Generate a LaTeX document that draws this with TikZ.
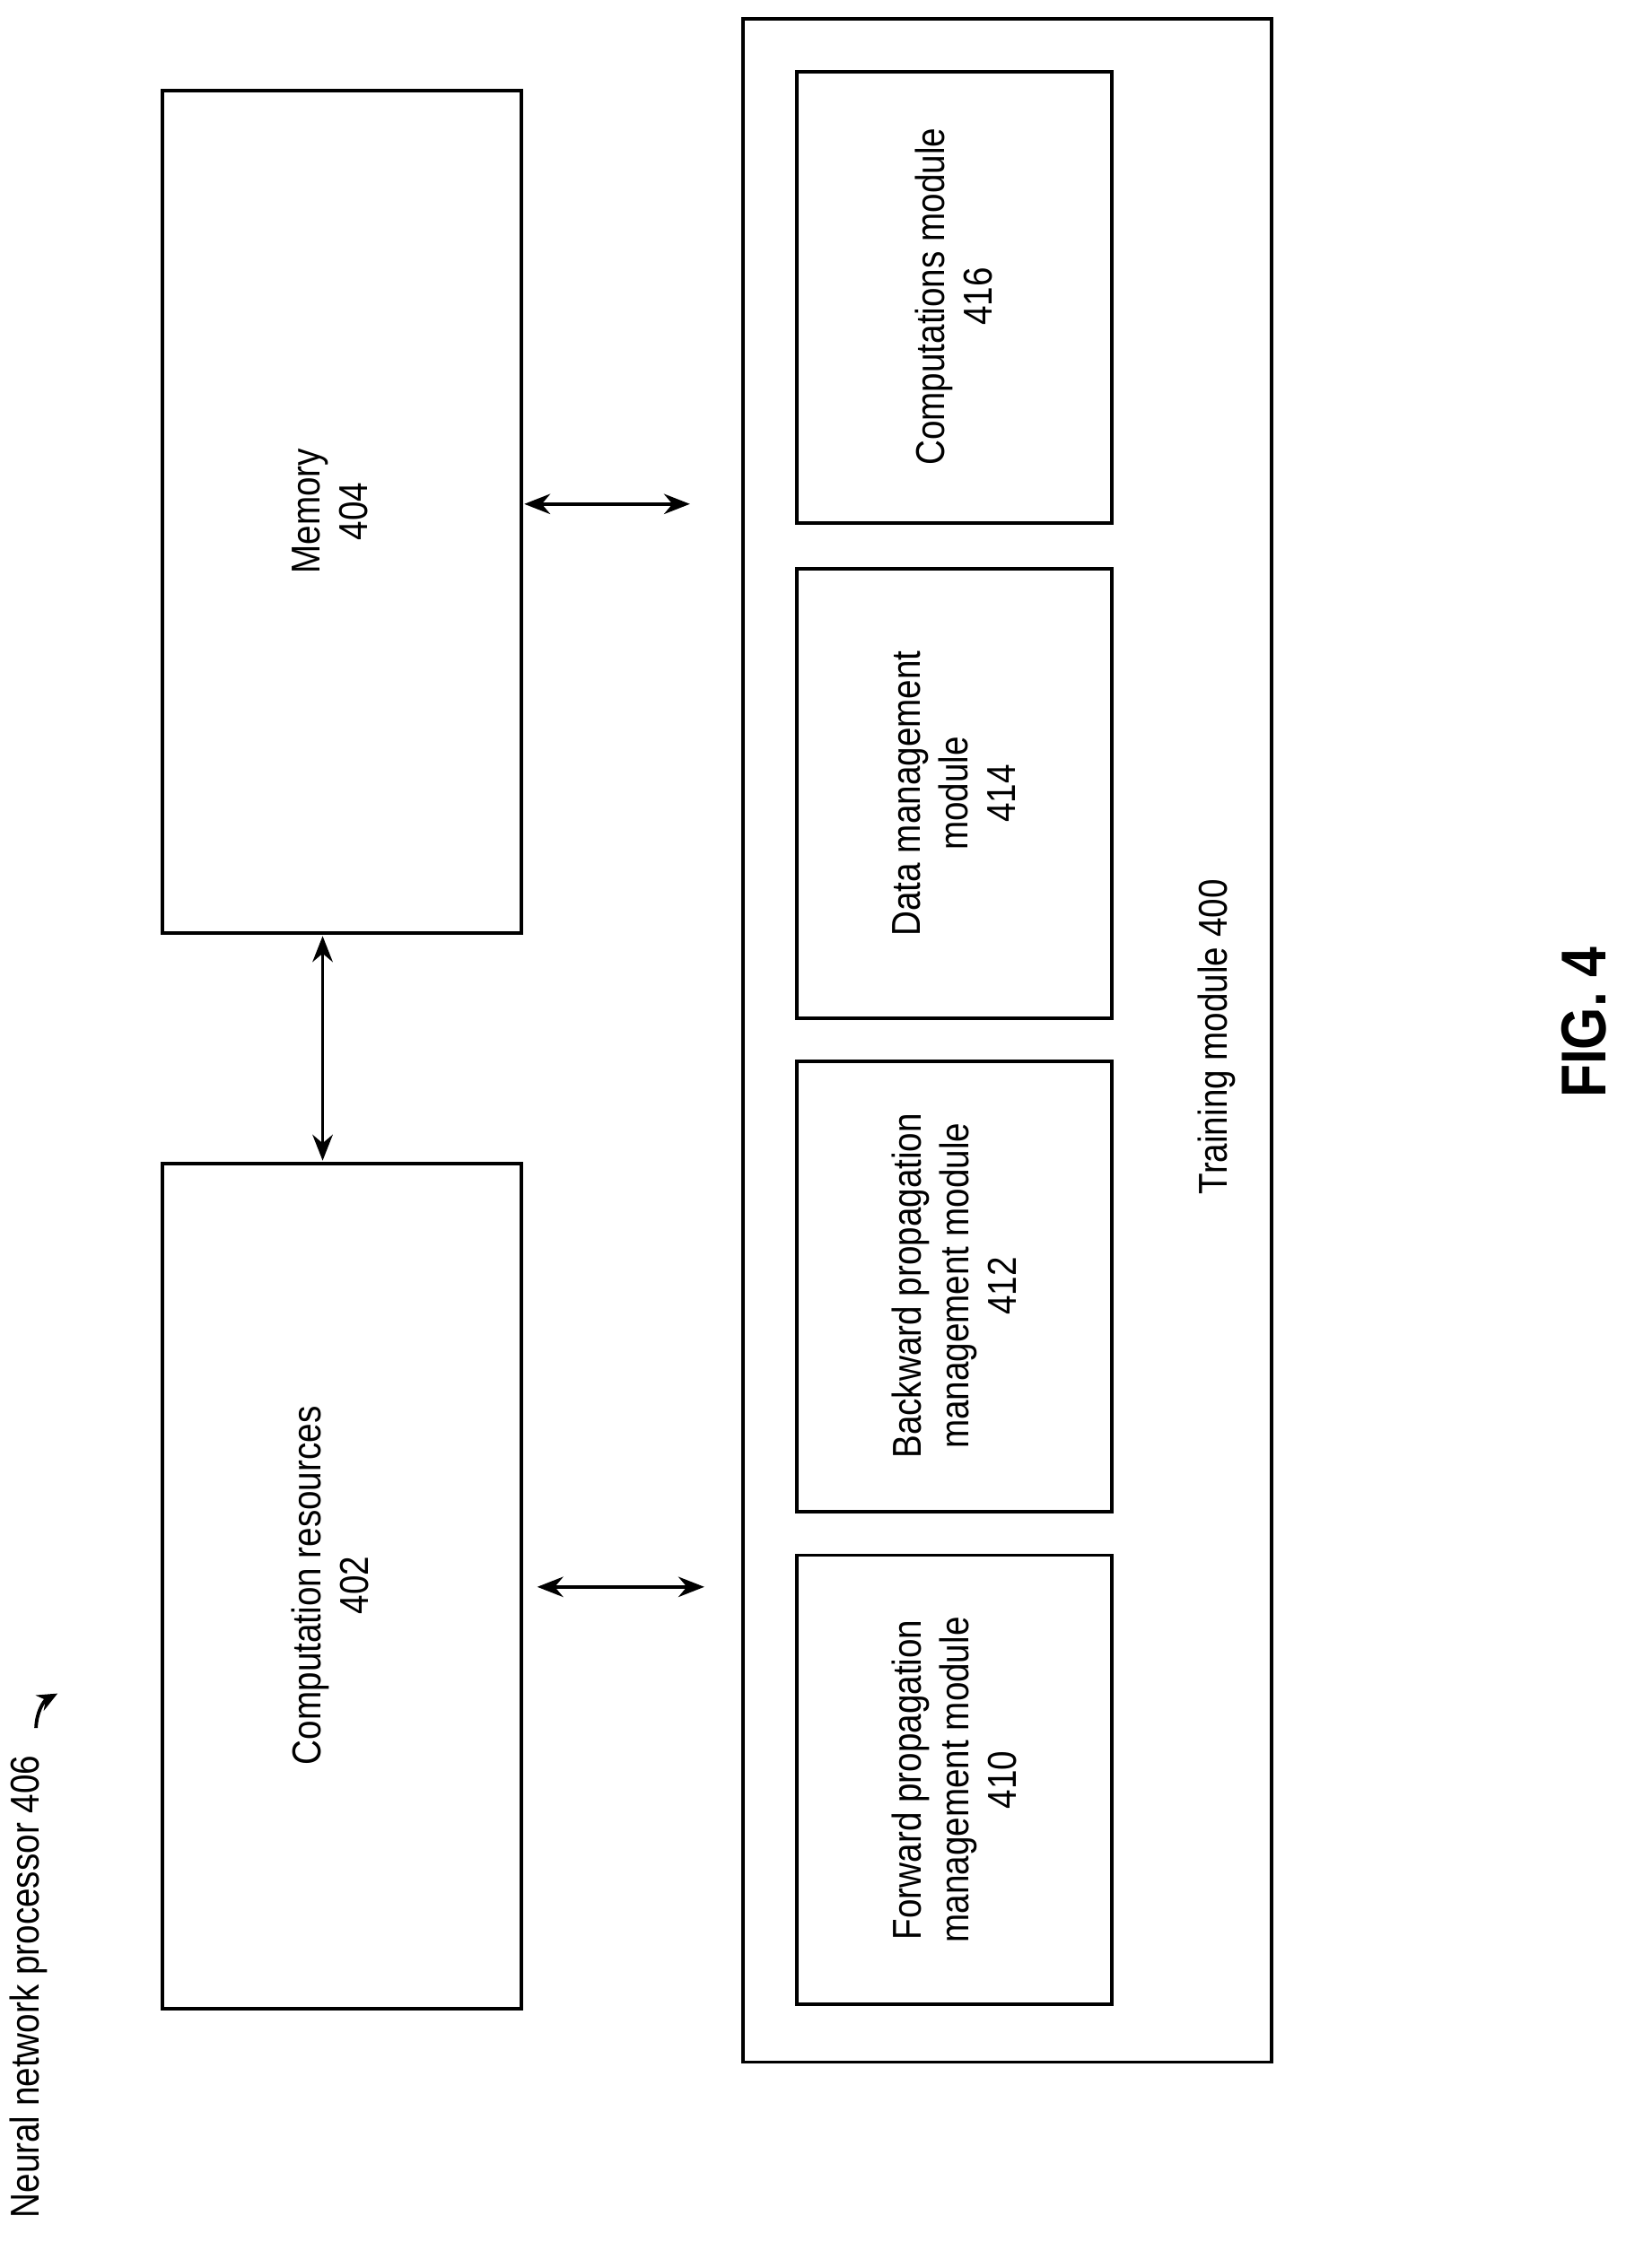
\documentclass[tikz,border=0pt]{standalone}
\usepackage{fontspec}
\setmainfont[FakeStretch=0.86]{Liberation Sans}
\usetikzlibrary{arrows.meta}
\tikzset{
    x={0.5pt},
    y={-0.5pt},
    block/.style={
        draw, line width={1.2pt},
        inner sep=0pt,
    },
    block label/.style={
        rotate=90,
        align=center,
        font={\fontsize{14}{16.5}\selectfont},
    },
    link/.style={
        line width={1.2pt},
        {Stealth[length=9pt,width=7pt]}-{Stealth[length=9pt,width=7pt]},
    },
}
\begin{document}
\begin{tikzpicture}
\useasboundingbox (0,0) rectangle (1135,1575);
% processor blocks
\draw[block] (113,63) rectangle (362,648);
\node[block label] (memory) at (229,355) {Memory\\404};
\coordinate (memory south) at (224,650);
\draw[block] (113,808) rectangle (362,1395);
\node[block label] (compres) at (229,1101) {Computation resources\\402};
\coordinate (compres north) at (224,806);
% training module
\draw[block] (516,13) rectangle (883,1432);
\node[block label] (training) at (845,720) {Training module 400};
\draw[block] (553,50) rectangle (772,363);
\node[block label] (comput) at (662.5,206) {Computations module\\416};
\draw[block] (553,395) rectangle (772,707);
\node[block label] (datamgmt) at (662.5,551) {Data management\\module\\414};
\draw[block] (553,737) rectangle (772,1050);
\node[block label] (backward) at (662.5,893) {Backward propagation\\management module\\412};
\draw[block] (553,1080) rectangle (772,1392);
\node[block label] (forward) at (662.5,1236) {Forward propagation\\management module\\410};
% links
\coordinate (up left) at (364,350);
\coordinate (up right) at (479,350);
\coordinate (low left) at (373,1102);
\coordinate (low right) at (489,1102);
\draw[link] (memory south) -- (compres north);
\draw[link] (up left) -- (up right);
\draw[link] (low left) -- (low right);
% captions
\node[block label, anchor=east] (processor) at (20,1212) {Neural network processor 406};
\coordinate (hook tail) at (25,1200);
\coordinate (hook tip) at (40,1176);
\draw[line width={1.2pt}, -{Stealth[length=7pt,width=6pt]}] (hook tail) to[bend left=30] (hook tip);
\node[rotate=90, font={\bfseries\fontsize{22}{26}\selectfont}] (fig) at (1100,710) {FIG. 4};
\end{tikzpicture}
\end{document}
